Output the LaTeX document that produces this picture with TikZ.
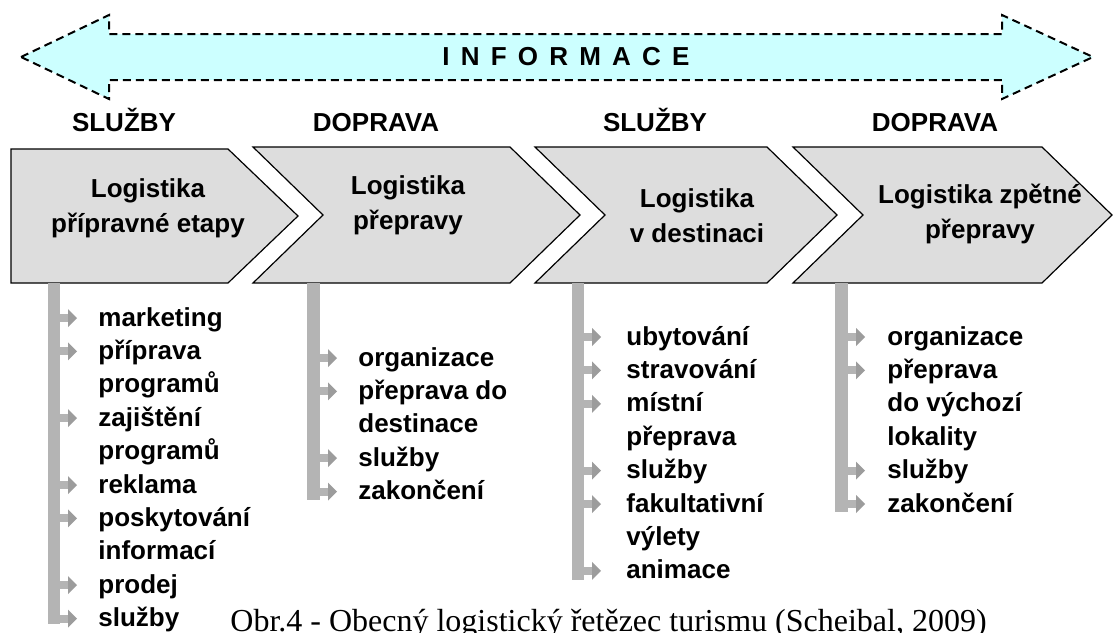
\documentclass[tikz,border=0pt]{standalone}
\usepackage{fontspec}
\setmainfont{Liberation Sans}
\newfontfamily\capfont{Liberation Serif}

\definecolor{infocyan}{HTML}{CCFFFF}
\definecolor{chevgray}{HTML}{DDDDDD}
\definecolor{bargray}{HTML}{B4B4B4}
\definecolor{tipgray}{HTML}{9C9C9C}

\def\lsp{\hspace{5.6pt}}

\tikzset{
  bul/.pic={
    \fill[bargray] (0,-4) rectangle (8,4);
    \fill[tipgray] (8,-9) -- (17,0) -- (8,9) -- cycle;
  }
}

\begin{document}
\begin{tikzpicture}[x=0.5pt,y=-0.5pt,
    chev/.style={draw=black, fill=chevgray, line width=0.6pt},
    hdr/.style={anchor=base, font=\fontsize{13}{15}\selectfont\bfseries},
    lbl/.style={align=center, font=\fontsize{13}{17.5}\selectfont\bfseries},
    item/.style={anchor=base west, inner sep=0pt, font=\fontsize{13}{15}\selectfont\bfseries},
    bar/.style={fill=bargray}]

\useasboundingbox (0,0) rectangle (1114,632);

% informace
\filldraw[fill=infocyan, draw=black, line width=1pt, dash pattern=on 4pt off 2.5pt]
  (21,57) -- (109,15) -- (109,34) -- (1002,34) -- (1002,15) -- (1093,57)
  -- (1002,99) -- (1002,80) -- (109,80) -- (109,99) -- cycle;
\node[font=\fontsize{13}{15}\selectfont\bfseries] (info) at (566,57)
  {I\lsp N\lsp F\lsp O\lsp R\lsp M\lsp A\lsp C\lsp E};

% headers
\node[hdr] (h1) at (124,131) {SLUŽBY};
\node[hdr] (h2) at (376,131) {DOPRAVA};
\node[hdr] (h3) at (655,131) {SLUŽBY};
\node[hdr] (h4) at (935,131) {DOPRAVA};

% chevrons
\path[chev] (11,149) -- (228,149) -- (298,216) -- (228,283) -- (11,283) -- cycle;
\path[chev] (253,147) -- (510,147) -- (580,215) -- (510,283) -- (253,283) -- (323,215) -- cycle;
\path[chev] (535,147) -- (767,147) -- (837,215) -- (767,283) -- (535,283) -- (605,215) -- cycle;
\path[chev] (793,147) -- (1042,147) -- (1112,215) -- (1042,283) -- (793,283) -- (863,215) -- cycle;

\node[lbl] (c1) at (148,208) {Logistika\\přípravné etapy};
\node[lbl] (c2) at (408,205) {Logistika\\přepravy};
\node[lbl] (c3) at (697,216) {Logistika\\v destinaci};
\node[lbl] (c4) at (980,214) {Logistika zpětné\\přepravy};

% bars
\fill[bar] (48,283) rectangle (60,624);
\fill[bar] (307,283) rectangle (320,500);
\fill[bar] (572,283) rectangle (584,580);
\fill[bar] (835,283) rectangle (848,512);

% items
\foreach \r/\t/\a in {0/marketing/1, 1/příprava/1, 2/programů/0, 3/zajištění/1,
    4/programů/0, 5/reklama/1, 6/poskytování/1, 7/informací/0, 8/prodej/1, 9/služby/1}{
  \node[item] (prep\r) at (98,326+\r*33.4) {\t};
  \ifnum\a=1 \pic at (60,318+\r*33.4) {bul}; \fi
}
\foreach \r/\t/\a in {0/organizace/1, 1/přeprava do/1, 2/destinace/0, 3/služby/1, 4/zakončení/1}{
  \node[item] (trans\r) at (358,366+\r*33.4) {\t};
  \ifnum\a=1 \pic at (320,358+\r*33.4) {bul}; \fi
}
\foreach \r/\t/\a in {0/ubytování/1, 1/stravování/1, 2/místní/1, 3/přeprava/0,
    4/služby/1, 5/fakultativní/1, 6/výlety/0, 7/animace/1}{
  \node[item] (dest\r) at (626,345+\r*33.4) {\t};
  \ifnum\a=1 \pic at (584,337+\r*33.4) {bul}; \fi
}
\foreach \r/\t/\a in {0/organizace/1, 1/přeprava/1, 2/do výchozí/0, 3/lokality/0,
    4/služby/1, 5/zakončení/1}{
  \node[item] (back\r) at (887,345+\r*33.4) {\t};
  \ifnum\a=1 \pic at (848,337+\r*33.4) {bul}; \fi
}

\node[anchor=base west, inner sep=0pt, font=\capfont\fontsize{16}{18}\selectfont] (cap)
  at (230,631) {Obr.4 - Obecný logistický řetězec turismu (Scheibal, 2009)};

\end{tikzpicture}
\end{document}
